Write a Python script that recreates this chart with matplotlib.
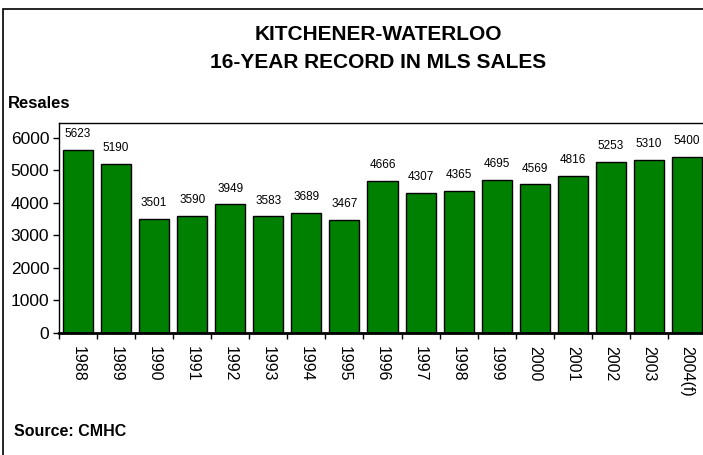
import matplotlib.pyplot as plt
import numpy as np
from matplotlib.patches import Rectangle

# data
years = ["1988", "1989", "1990", "1991", "1992", "1993", "1994", "1995", "1996",
         "1997", "1998", "1999", "2000", "2001", "2002", "2003", "2004(f)"]
resales = [5623, 5190, 3501, 3590, 3949, 3583, 3689, 3467, 4666,
           4307, 4365, 4695, 4569, 4816, 5253, 5310, 5400]
yticks = [0, 1000, 2000, 3000, 4000, 5000, 6000]

plt.rcParams['font.family'] = ['Liberation Sans', 'DejaVu Sans']

fig = plt.figure(figsize=(7.03, 4.55), dpi=100)

# outer frame, runs off the right and bottom edges like the original
fig.patches.append(Rectangle((3 / 703, -0.05), 1.2, 1 - 9 / 455 + 0.05,
                             transform=fig.transFigure, fill=False,
                             edgecolor='black', linewidth=1.2))

ax = fig.add_axes([59 / 703, 122 / 455, 647 / 703, 210 / 455])

x = np.arange(len(years))
ax.bar(x, resales, width=0.79, color='#008000', edgecolor='black', linewidth=1)

for xi, v in zip(x, resales):
    ax.annotate(str(v), (xi, v), xytext=(0, 7), textcoords='offset points',
                ha='center', va='bottom', fontsize=8.5)

ax.set_xlim(-0.5, len(years) - 0.5)
ax.set_ylim(0, 6450)
ax.set_yticks(yticks)
ax.set_yticklabels([str(t) for t in yticks], fontsize=12.5)

ax.set_xticks(x)
ax.set_xticklabels(years, rotation=-90, fontsize=11.5)
ax.tick_params(axis='x', which='major', length=0, pad=9)
ax.set_xticks(np.arange(-0.5, len(years)), minor=True)
ax.tick_params(axis='x', which='minor', length=4, width=1)
ax.tick_params(axis='y', length=4, width=1, pad=3)

ax.spines['bottom'].set_linewidth(2)
ax.spines['left'].set_linewidth(1)
ax.spines['top'].set_linewidth(1)

fig.text(378 / 703, 1 - 35 / 455, "KITCHENER-WATERLOO", ha='center', va='center',
         fontsize=15, fontweight='bold')
fig.text(378 / 703, 1 - 63 / 455, "16-YEAR RECORD IN MLS SALES", ha='center', va='center',
         fontsize=15, fontweight='bold')
fig.text(8 / 703, 1 - 103 / 455, "Resales", ha='left', va='center',
         fontsize=12, fontweight='bold')
fig.text(14 / 703, 1 - 432 / 455, "Source: CMHC", ha='left', va='center',
         fontsize=11.5, fontweight='bold')

fig.savefig("out.png", dpi=100)
